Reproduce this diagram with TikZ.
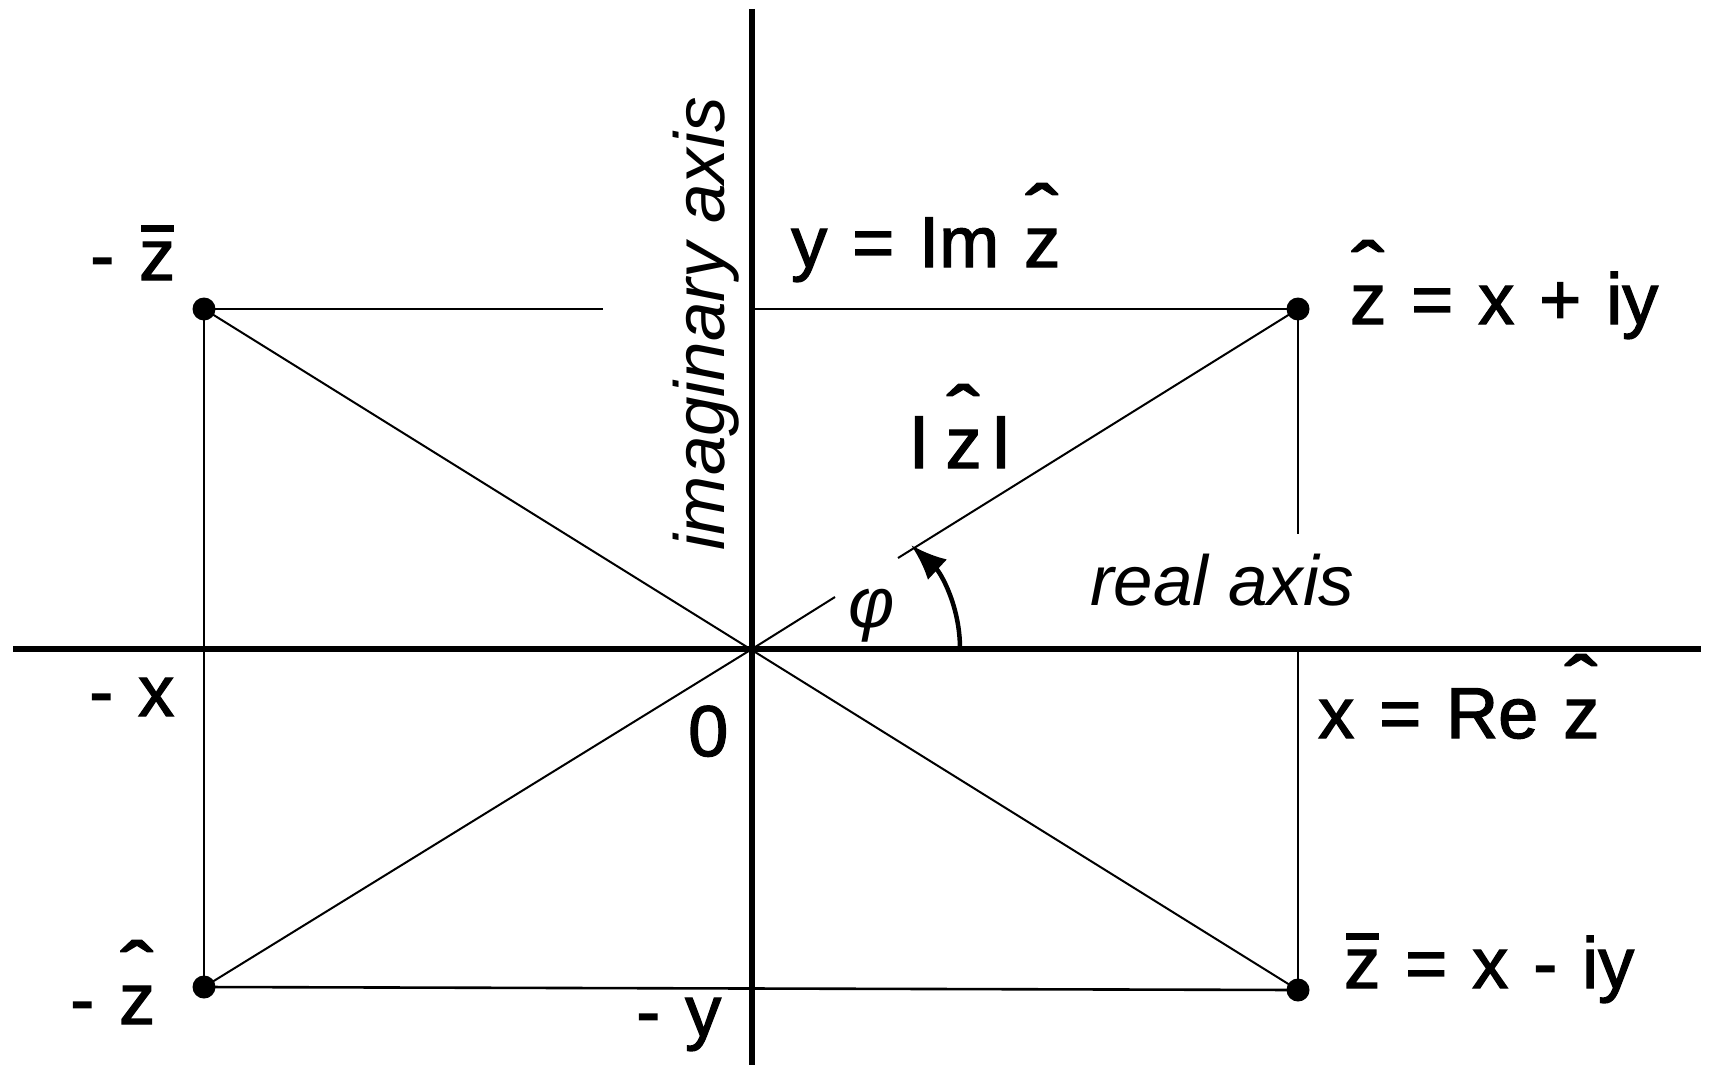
\documentclass[tikz,border=0pt]{standalone}
\usepackage{graphicx}
\usepackage{fontspec}
\setmainfont{Liberation Sans}
\newfontfamily\lblfont[FakeBold=1.8,WordSpace=1.25]{Liberation Sans}
\usetikzlibrary{arrows.meta}
\newcommand{\zhat}{\ooalign{z\cr\hidewidth\raisebox{0.36em}{\scalebox{1.35}[1.1]{ˆ}}\hidewidth\cr}}
\newcommand{\zbar}{\ooalign{z\cr\hidewidth\rule[0.66em]{0.46em}{0.1em}\hidewidth\cr}}
\newcommand{\vbar}{\raisebox{0.16em}{\scalebox{1.15}[0.77]{|}}}
\tikzset{
  axis/.style={line width=6pt},
  thinl/.style={line width=2.6pt},
  diag/.style={line width=2pt},
  dot/.style={circle,fill=black,inner sep=0pt,minimum size=23pt},
  lbl/.style={inner sep=0pt,anchor=base west,font=\lblfont\fontsize{72}{76}\selectfont},
  ilbl/.style={inner sep=0pt,font=\fontsize{71}{75}\selectfont\itshape},
}
\begin{document}
\begin{tikzpicture}[x=1pt,y=-1pt]
\useasboundingbox (0,0) rectangle (1710,1065);
% coordinates
\coordinate (O) at (752,649);
\coordinate (xl) at (13,649);
\coordinate (xr) at (1701,649);
\coordinate (yt) at (752,9);
\coordinate (yb) at (752,1065);
\coordinate (tlend) at (603,309);
\coordinate (imy) at (752,309);
\coordinate (rvend) at (1298,534);
\coordinate (rex) at (1298,649);
\coordinate (gapA) at (835,597);
\coordinate (gapB) at (898,558);
\coordinate (arcs) at (960,649);
\coordinate (tip) at (911,545);
% points
\node[dot] (zh) at (1298,309) {};
\node[dot] (mzb) at (204,309) {};
\node[dot] (mzh) at (204,987) {};
\node[dot] (zb) at (1298,990) {};
% axes
\draw[axis] (xl) -- (xr);
\draw[axis] (yt) -- (yb);
% rectangle lines
\draw[thinl] (mzb.center) -- (tlend);
\draw[thinl] (imy) -- (zh.center);
\draw[thinl] (zh.center) -- (rvend);
\draw[thinl] (rex) -- (zb.center);
\draw[thinl] (mzb.center) -- (mzh.center);
\draw[thinl] (mzh.center) -- (zb.center);
% diagonals
\draw[diag] (mzb.center) -- (zb.center);
\draw[diag] (mzh.center) -- (O) -- (gapA);
\draw[diag] (gapB) -- (zh.center);
% angle arrow
\draw[line width=4.5pt,-{Latex[length=36pt,width=28pt]}] (arcs) .. controls (960,605) and (940,572) .. (tip);
% labels
\node[lbl] (l1) at (90,280) {- \zbar};
\node[lbl] (l2) at (791,267) {y = Im \zhat};
\node[lbl] (l3) at (1350,324) {\zhat\ = x + iy};
\node[lbl] (l4) at (908,468) {\vbar\hspace{0.22em}\zhat\hspace{0.12em}\vbar};
\node[lbl] (l5) at (89,716) {- x};
\node[lbl] (l6) at (688,756) {0};
\node[lbl] (l7) at (1318,738) {x = Re \zhat};
\node[lbl] (l8) at (70,1024) {- \zhat};
\node[lbl] (l9) at (1344,988) {\zbar\ = x - iy};
\node[lbl] (l10) at (636,1036) {- y};
\node[ilbl,anchor=base west] (ra) at (1090,605) {real axis};
\node[ilbl,rotate=90,anchor=base] (ia) at (724,324) {imaginary axis};
\node[ilbl,anchor=base] (phi) at (872,627) {φ};
\end{tikzpicture}
\end{document}
